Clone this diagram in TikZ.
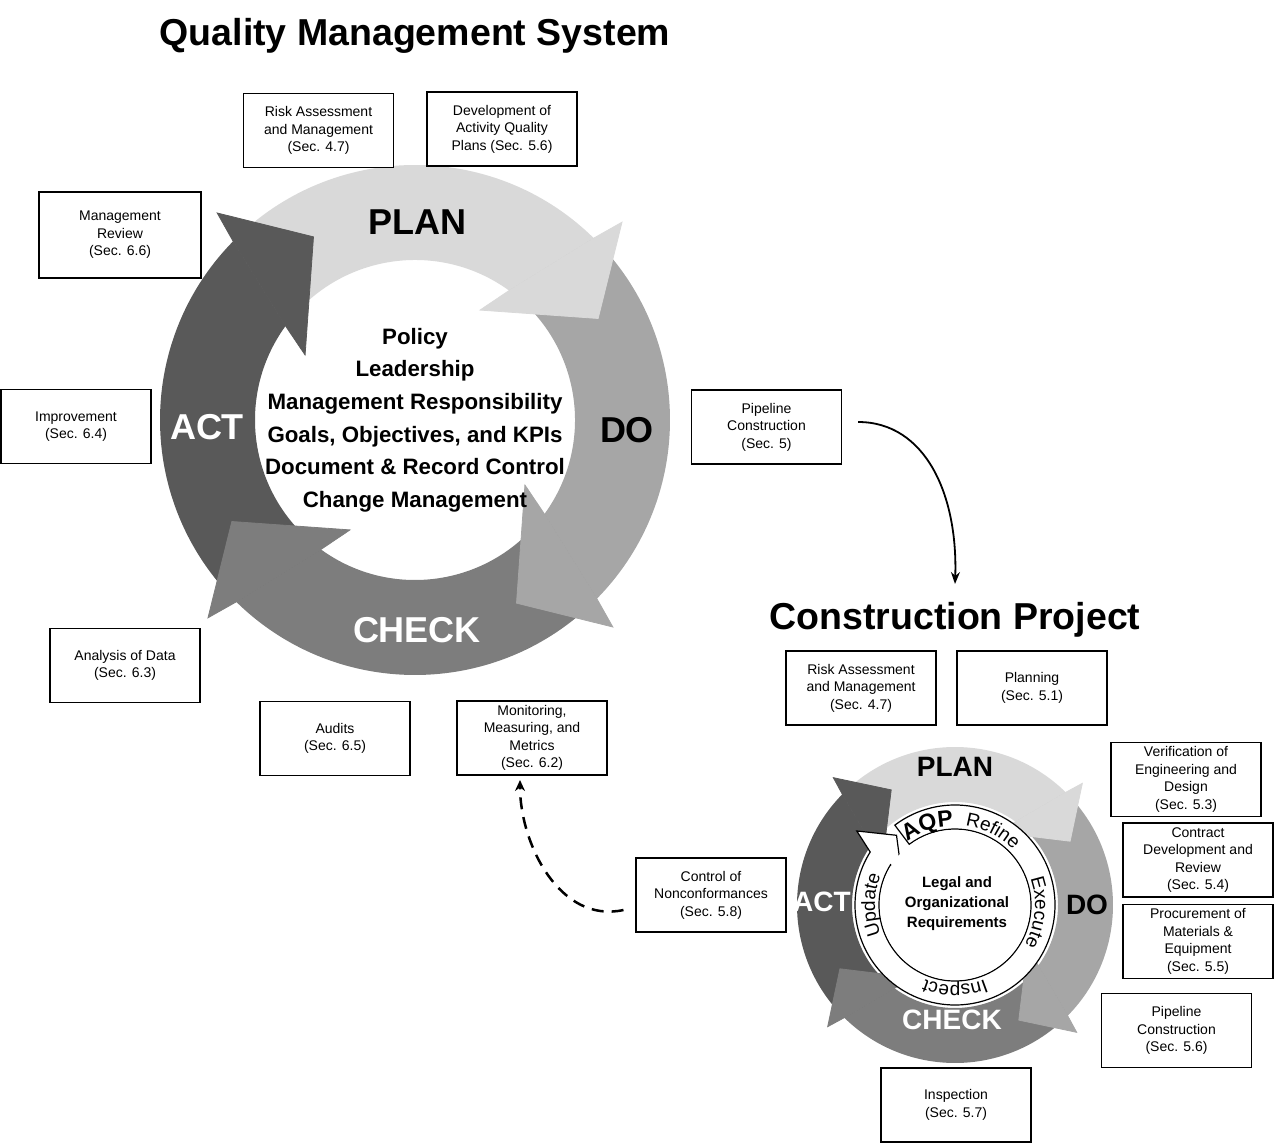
\documentclass[tikz,border=0pt]{standalone}
\usepackage{fontspec}
\setmainfont{Liberation Sans}
\usetikzlibrary{arrows.meta,decorations.text}
\definecolor{cplan}{gray}{0.85}
\definecolor{cdo}{gray}{0.65}
\definecolor{ccheck}{gray}{0.49}
\definecolor{cact}{gray}{0.35}
% #1 cx #2 cy #3 ri #4 ro #5 rotation offset #6 colour
\newcommand\pdcabody[6]{%
\begin{scope}[shift={(#1,#2)},rotate=#5]
\fill[#6] (135.5:#4) arc[start angle=135.5,end angle=45.5,radius=#4] -- (54:#3) arc[start angle=54,end angle=144,radius=#3] -- cycle;
\end{scope}}
\newcommand\pdcahead[6]{%
\begin{scope}[shift={(#1,#2)},rotate=#5]
\filldraw[fill=#6,draw=#6,line width=0.8pt,line join=miter] (45.5:#4) -- ({43.7}:{#4+0.33*(#4-#3)}) -- ({29}:{#3+0.52*(#4-#3)}) -- ({59.4}:{#3-0.34*(#4-#3)}) -- (54:#3) -- cycle;
\end{scope}}
\begin{document}
\begin{tikzpicture}[x=1pt,y=1pt,
 bx/.style={draw,line width=1.1pt,fill=white,minimum width=150pt,minimum height=74pt,align=center,font=\fontsize{14}{17.5}\selectfont,inner sep=1pt},
 ttl/.style={font=\bfseries\fontsize{37.5}{40}\selectfont},
 lab/.style={font=\bfseries\fontsize{36}{40}\selectfont},
 slab/.style={font=\bfseries\fontsize{28}{30}\selectfont}]
\useasboundingbox (0,0) rectangle (1274,1144);
% big cycle
\pdcabody{415}{724}{160}{255}{0}{cplan}
\pdcabody{415}{724}{160}{255}{-90}{cdo}
\pdcabody{415}{724}{160}{255}{-180}{ccheck}
\pdcabody{415}{724}{160}{255}{-270}{cact}
\pdcahead{415}{724}{160}{255}{0}{cplan}
\pdcahead{415}{724}{160}{255}{-90}{cdo}
\pdcahead{415}{724}{160}{255}{-180}{ccheck}
\pdcahead{415}{724}{160}{255}{-270}{cact}
\node[ttl] (t1) at (415,1108) {Quality Management System};
\node[lab] (lp) at (417,922) {PLAN};
\node[lab] (ld) at (627,714) {DO};
\node[lab,white] (la) at (207,717) {ACT};
\node[lab,white] (lc) at (417,514) {CHECK};
\node[align=center,font=\bfseries\fontsize{22.3}{32.6}\selectfont] (cen) at (415,724) {Policy\\Leadership\\Management Responsibility\\Goals, Objectives, and KPIs\\Document \& Record Control\\Change Management};
% small cycle
\pdcabody{955}{239}{103}{158}{0}{cplan}
\pdcabody{955}{239}{103}{158}{-90}{cdo}
\pdcabody{955}{239}{103}{158}{-180}{ccheck}
\pdcabody{955}{239}{103}{158}{-270}{cact}
\pdcahead{955}{239}{103}{158}{0}{cplan}
\pdcahead{955}{239}{103}{158}{-90}{cdo}
\pdcahead{955}{239}{103}{158}{-180}{ccheck}
\pdcahead{955}{239}{103}{158}{-270}{cact}
\begin{scope}[shift={(955,239)}]
\filldraw[fill=white,line width=1.2pt] (127:100) arc[start angle=127,end angle=-212,radius=100] -- (143:123) -- (130:91) -- (152:60) -- (-212:76) arc[start angle=-212,end angle=127,radius=76] -- cycle;
\fill[white] (0,0) circle (75);
\path[decorate,decoration={text along path,text align=center,text={|\fontsize{19}{19}\selectfont|Update}}] (210:80) arc[start angle=210,end angle=150,radius=80];
\path[decorate,decoration={text along path,text align=center,text={|\bfseries\fontsize{23}{23}\selectfont|AQP}}] (126:79) arc[start angle=126,end angle=92,radius=79];
\path[decorate,decoration={text along path,text align=center,text={|\fontsize{19}{19}\selectfont|Refine}}] (90:80) arc[start angle=90,end angle=36,radius=80];
\path[decorate,decoration={text along path,text align=center,text={|\fontsize{19}{19}\selectfont|Execute}}] (28:80) arc[start angle=28,end angle=-38,radius=80];
\path[decorate,decoration={text along path,text align=center,text={|\fontsize{19}{19}\selectfont|Inspect}}] (-58:80) arc[start angle=-58,end angle=-122,radius=80];
\end{scope}
\node[ttl] (t2) at (955,524) {Construction Project};
\node[slab] (sp) at (955,377) {PLAN};
\node[slab] (sd) at (1087,239) {DO};
\node[slab,white] (sa) at (822,242) {ACT};
\node[slab,white] (sc) at (952,124) {CHECK};
\node[align=center,font=\bfseries\fontsize{15}{20}\selectfont] (lor) at (957,240) {Legal and\\Organizational\\Requirements};
% boxes
\node[bx] (ra1) at (318.5,1013.5) {Risk Assessment\\and Management\\(Sec. 4.7)};
\node[bx] (dev) at (502,1015) {Development of\\Activity Quality\\Plans (Sec. 5.6)};
\node[bx,minimum width=162pt,minimum height=86pt] (mr) at (120,909) {Management\\Review\\(Sec. 6.6)};
\node[bx] (imp) at (76,717.5) {Improvement\\(Sec. 6.4)};
\node[bx] (pc) at (766.5,717) {Pipeline\\Construction\\(Sec. 5)};
\node[bx] (aod) at (125,478.5) {Analysis of Data\\(Sec. 6.3)};
\node[bx] (aud) at (335,405.5) {Audits\\(Sec. 6.5)};
\node[bx] (mon) at (532,406) {Monitoring,\\Measuring, and\\Metrics\\(Sec. 6.2)};
\node[bx] (ra2) at (861,456) {Risk Assessment\\and Management\\(Sec. 4.7)};
\node[bx] (pl) at (1032,456) {Planning\\(Sec. 5.1)};
\node[bx] (ver) at (1186,364.5) {Verification of\\Engineering and\\Design\\(Sec. 5.3)};
\node[bx] (con) at (1198,284) {Contract\\Development and\\Review\\(Sec. 5.4)};
\node[bx] (pro) at (1198,202.5) {Procurement of\\Materials \&\\Equipment\\(Sec. 5.5)};
\node[bx] (pc2) at (1176.5,113.5) {Pipeline\\Construction\\(Sec. 5.6)};
\node[bx] (ins) at (956,39) {Inspection\\(Sec. 5.7)};
\node[bx] (cn) at (711,249) {Control of\\Nonconformances\\(Sec. 5.8)};
% connectors
\coordinate (e1) at (955,560);
\draw[line width=1.8pt,-{Stealth[length=12pt,width=9pt]}] ([xshift=16pt,yshift=5pt]pc.east) .. controls (925,722) and (958,650) .. (e1);
\coordinate (e2) at (520,364);
\draw[line width=2.5pt,dash pattern=on 12pt off 8pt,-{Stealth[length=11pt,width=10pt]}] ([xshift=-12pt,yshift=-15pt]cn.west) .. controls (560,220) and (520,300) .. (e2);
\end{tikzpicture}
\end{document}
